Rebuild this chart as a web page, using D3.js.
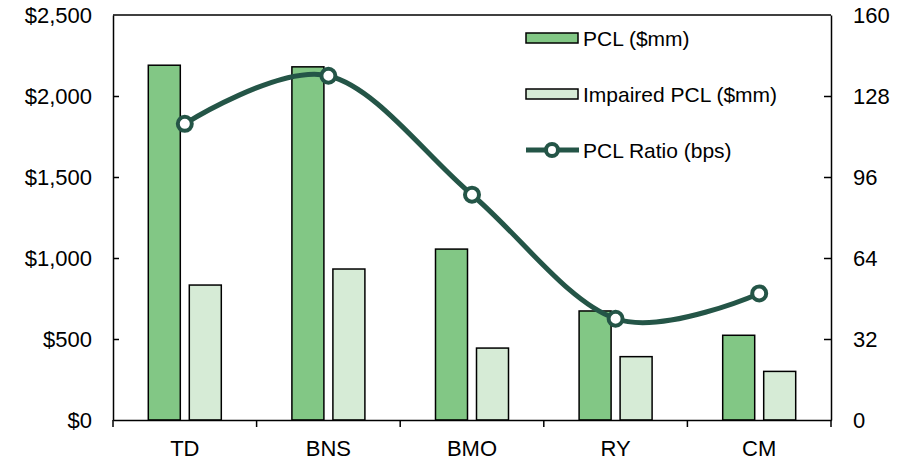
<!DOCTYPE html>
<html>
<head>
<meta charset="utf-8">
<script src="https://cdn.jsdelivr.net/npm/d3@7"></script>
<style>
  body { margin: 0; background: #fff; }
  svg text { font-family: "Liberation Sans", Arial, sans-serif; fill: #000; }
</style>
</head>
<body>
<div id="chart"></div>
<script>
// bank categories
var banks = ['TD', 'BNS', 'BMO', 'RY', 'CM'];
// $mm
var pcl = [2190, 2180, 1055, 673, 523];
var impairedPcl = [833, 932, 444, 391, 300];
// bps
var pclRatio = [117, 136, 89, 40, 50];

var leftTicks = [0, 500, 1000, 1500, 2000, 2500];
var rightTicks = [0, 32, 64, 96, 128, 160];

var W = 906, H = 461;
var m = {top: 15, right: 75, bottom: 41, left: 113};

var svg = d3.select('#chart').append('svg')
    .attr('width', W)
    .attr('height', H);

var x = d3.scaleBand()
    .domain(banks)
    .range([m.left, W - m.right]);

var y = d3.scaleLinear()
    .domain([0, 2500])
    .range([H - m.bottom, m.top]);

var y2 = d3.scaleLinear()
    .domain([0, 160])
    .range([H - m.bottom, m.top]);

var barW = 32, gap = 9;
var dark = '#82c785', light = '#d6ebd6', lineCol = '#245547';

// bars
var g = svg.append('g');
g.selectAll('.pcl')
    .data(pcl)
    .enter().append('rect')
    .attr('class', 'pcl')
    .attr('x', function(d, i) { return x(banks[i]) + x.bandwidth() / 2 - gap / 2 - barW; })
    .attr('y', function(d) { return y(d); })
    .attr('width', barW)
    .attr('height', function(d) { return y(0) - y(d); })
    .attr('fill', dark)
    .attr('stroke', '#000')
    .attr('stroke-width', 1.5);

g.selectAll('.imp')
    .data(impairedPcl)
    .enter().append('rect')
    .attr('class', 'imp')
    .attr('x', function(d, i) { return x(banks[i]) + x.bandwidth() / 2 + gap / 2; })
    .attr('y', function(d) { return y(d); })
    .attr('width', barW)
    .attr('height', function(d) { return y(0) - y(d); })
    .attr('fill', light)
    .attr('stroke', '#000')
    .attr('stroke-width', 1.5);

// plot frame (top line)
svg.append('line')
    .attr('x1', m.left).attr('x2', W - m.right)
    .attr('y1', m.top).attr('y2', m.top)
    .attr('stroke', '#000').attr('stroke-width', 1.5);

// left axis
var yAxis = svg.append('g')
    .attr('transform', 'translate(' + m.left + ',0)')
    .call(d3.axisLeft(y).tickValues(leftTicks).tickSizeInner(-6).tickSizeOuter(0).tickPadding(21)
        .tickFormat(function(d) { return '$' + d3.format(',')(d); }));

// right axis
var y2Axis = svg.append('g')
    .attr('transform', 'translate(' + (W - m.right) + ',0)')
    .call(d3.axisRight(y2).tickValues(rightTicks).tickSizeInner(-7).tickSizeOuter(0).tickPadding(22));

// bottom axis
var xAxis = svg.append('g')
    .attr('transform', 'translate(0,' + (H - m.bottom) + ')')
    .call(d3.axisBottom(x).tickSize(0).tickPadding(20));

xAxis.selectAll('.bound')
    .data(banks.concat(['end']))
    .enter().append('line')
    .attr('class', 'bound')
    .attr('x1', function(d, i) { return m.left + i * x.step(); })
    .attr('x2', function(d, i) { return m.left + i * x.step(); })
    .attr('y1', 0).attr('y2', 7)
    .attr('stroke', '#000').attr('stroke-width', 1.5);

[yAxis, y2Axis, xAxis].forEach(function(a) {
    a.selectAll('.domain').attr('stroke', '#000').attr('stroke-width', 1.5);
    a.selectAll('.tick line').attr('stroke', '#000').attr('stroke-width', 1.5);
    a.selectAll('text').attr('font-size', 22).attr('fill', '#000');
});
yAxis.selectAll('.tick').filter(function(d) { return d === 0 || d === 2500; }).select('line').remove();
y2Axis.selectAll('.tick').filter(function(d) { return d === 0 || d === 160; }).select('line').remove();
xAxis.selectAll('.tick text').attr('dy', '0.71em');

// ratio line
var pts = pclRatio.map(function(d, i) { return [x(banks[i]) + x.bandwidth() / 2, y2(d)]; });
var line = d3.line().curve(d3.curveCatmullRom.alpha(0));

svg.append('path')
    .attr('d', line(pts))
    .attr('fill', 'none')
    .attr('stroke', lineCol)
    .attr('stroke-width', 5);

svg.selectAll('.dot')
    .data(pts)
    .enter().append('circle')
    .attr('class', 'dot')
    .attr('cx', function(d) { return d[0]; })
    .attr('cy', function(d) { return d[1]; })
    .attr('r', 7)
    .attr('fill', '#fff')
    .attr('stroke', lineCol)
    .attr('stroke-width', 4);

// legend
var legend = [
    {label: 'PCL ($mm)', type: 'bar', color: dark},
    {label: 'Impaired PCL ($mm)', type: 'bar', color: light},
    {label: 'PCL Ratio (bps)', type: 'line', color: lineCol}
];
var lg = svg.append('g').attr('transform', 'translate(526,38)');
var item = lg.selectAll('g')
    .data(legend)
    .enter().append('g')
    .attr('transform', function(d, i) { return 'translate(0,' + (i * 56) + ')'; });

item.filter(function(d) { return d.type === 'bar'; })
    .append('rect')
    .attr('x', 0).attr('y', -5)
    .attr('width', 52).attr('height', 10)
    .attr('fill', function(d) { return d.color; })
    .attr('stroke', '#000').attr('stroke-width', 1.5);

var li = item.filter(function(d) { return d.type === 'line'; });
li.append('line')
    .attr('x1', 0).attr('x2', 53)
    .attr('y1', 0).attr('y2', 0)
    .attr('stroke', lineCol).attr('stroke-width', 5);
li.append('circle')
    .attr('cx', 26).attr('cy', 0).attr('r', 6)
    .attr('fill', '#fff').attr('stroke', lineCol).attr('stroke-width', 4);

item.append('text')
    .attr('x', 57)
    .attr('y', 0)
    .attr('dy', '0.36em')
    .attr('font-size', 21)
    .text(function(d) { return d.label; });
</script>
</body>
</html>
